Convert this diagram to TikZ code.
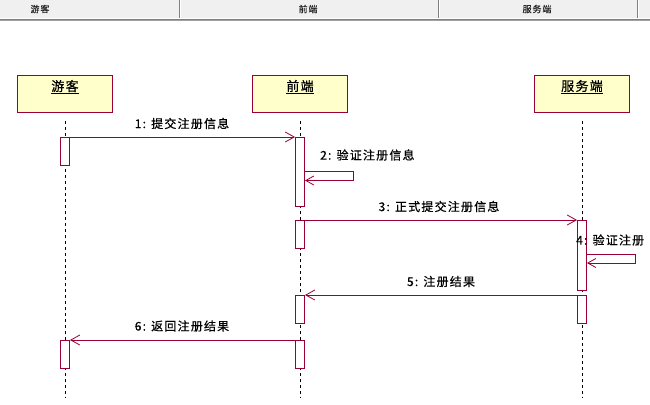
\documentclass[tikz,border=0pt]{standalone}
\usepackage{fontspec}
\setmainfont{Noto Sans CJK SC}[LetterSpace=10,FakeBold=0.6]
\usetikzlibrary{arrows.meta}
\definecolor{umlred}{HTML}{990033}
\definecolor{umlfill}{HTML}{FFFFCC}
\definecolor{hdrbg}{HTML}{F0F0F0}
\definecolor{hdrdark}{HTML}{808080}
\definecolor{hdrmid}{HTML}{A0A0A0}
\begin{document}
\begin{tikzpicture}[x=1pt,y=-1pt,
  objbox/.style={draw=umlred, fill=umlfill, line width=1pt, minimum width=95pt, minimum height=37pt, inner sep=0pt, anchor=north},
  objtitle/.style={font=\fontsize{13}{15}\selectfont, inner sep=0pt},
  act/.style={draw=umlred, fill=white, line width=1pt, minimum width=9pt, inner sep=0pt, anchor=north},
  msg/.style={draw=umlred, line width=0.8pt, -{Straight Barb[length=9pt,width=10pt]}},
  lab/.style={font=\fontsize{12}{14}\selectfont, inner sep=0pt},
  life/.style={dash pattern=on 3pt off 3pt, line width=1pt},
  hdrtext/.style={font=\fontsize{9}{10}\selectfont, text=black!85, inner sep=0pt}]
\useasboundingbox (0,0) rectangle (650,404);
\fill[white] (0,0) rectangle (650,404);
% header bar
\fill[hdrbg] (0,0) rectangle (650,18);
\draw[hdrdark, line width=1.2pt] (0,19.2) -- (650,19.2);
\draw[hdrmid, line width=1pt] (0,21) -- (650,21);
\foreach \sx in {179,438,637}{
  \draw[hdrdark, line width=1pt] (\sx,0) -- (\sx,18.5);
  \draw[white, line width=1pt] (\sx+1.5,0) -- (\sx+1.5,18.5);
}
\node[hdrtext] (hA) at (40,9) {游客};
\node[hdrtext] (hB) at (308,9) {前端};
\node[hdrtext] (hC) at (537,9) {服务端};
% objects
\node[objbox] (oA) at (65,75) {};
\node[objbox] (oB) at (300,75) {};
\node[objbox] (oC) at (582,75) {};
\node[objtitle] (tA) at (65,87) {\underline{游客}};
\node[objtitle] (tB) at (300,87) {\underline{前端}};
\node[objtitle] (tC) at (582,87) {\underline{服务端}};
% lifelines
\coordinate (eA) at (65,398);
\coordinate (eB) at (300,398);
\coordinate (eC) at (582,398);
\draw[life] ([yshift=-8pt]oA.south) -- (eA);
\draw[life] ([yshift=-8pt]oB.south) -- (eB);
\draw[life] ([yshift=-8pt]oC.south) -- (eC);
% activations
\node[act, minimum height=28pt] (a1) at (65,137) {};
\node[act, minimum height=28pt] (a2) at (65,340) {};
\node[act, minimum height=69pt] (b1) at (300,137) {};
\node[act, minimum height=28pt] (b2) at (300,220) {};
\node[act, minimum height=28pt] (b3) at (300,295) {};
\node[act, minimum height=28pt] (b4) at (300,340) {};
\node[act, minimum height=70pt] (c1) at (582,220) {};
\node[act, minimum height=28pt] (c2) at (582,295) {};
% messages
\draw[msg] (a1.north east) -- (b1.north west);
\node[lab] (m1) at (182,123.5) {1: 提交注册信息};
\coordinate (s2a) at (353.5,171.5);
\coordinate (s2b) at (353.5,180.5);
\draw[msg, -{Straight Barb[length=8pt,width=9pt]}] (b1.east |- s2a) -- (s2a) -- (s2b) -- (b1.east |- s2b);
\node[lab, anchor=west] (m2) at (320,155) {2: 验证注册信息};
\draw[msg] (b2.north east) -- (c1.north west);
\node[lab] (m3) at (439,206.5) {3: 正式提交注册信息};
\coordinate (s4a) at (635.5,254);
\coordinate (s4b) at (635.5,263);
\draw[msg, -{Straight Barb[length=8pt,width=9pt]}] (c1.east |- s4a) -- (s4a) -- (s4b) -- (c1.east |- s4b);
\node[lab, anchor=west] (m4) at (576,240) {4: 验证注册};
\draw[msg] (c2.north west) -- (b3.north east);
\node[lab] (m5) at (441,281.5) {5: 注册结果};
\draw[msg] (b4.north west) -- (a2.north east);
\node[lab] (m6) at (182,326) {6: 返回注册结果};
\end{tikzpicture}
\end{document}
